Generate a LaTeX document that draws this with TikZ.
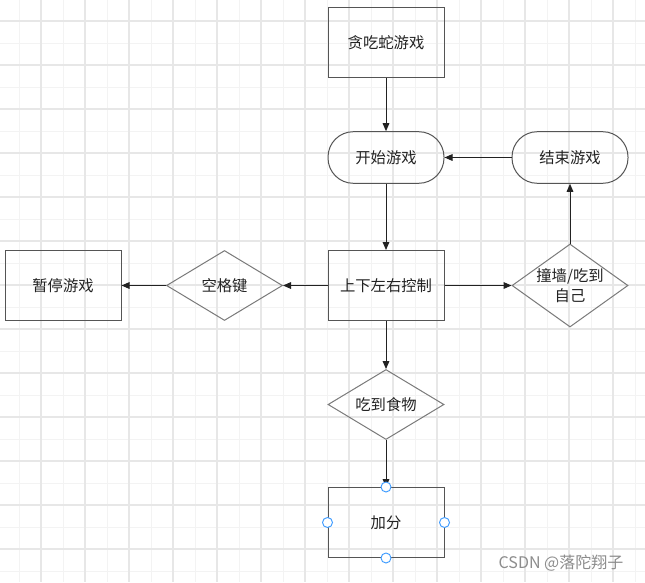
\documentclass[tikz,border=0pt]{standalone}
\usepackage{fontspec}
\setmainfont{Noto Sans CJK SC}
\usetikzlibrary{shapes.geometric,arrows.meta}
\definecolor{boxline}{HTML}{555555}
\definecolor{dialine}{HTML}{7A7A7A}
\definecolor{txtcol}{HTML}{222222}
\definecolor{gridlight}{HTML}{F3F3F3}
\definecolor{griddark}{HTML}{E7E7E7}
\definecolor{handleblue}{HTML}{3D9BFF}
\begin{document}
\begin{tikzpicture}[x=0.75pt, y=-0.75pt, >={Triangle[length=6pt,width=5pt]},
  box/.style={draw=boxline, rectangle, line width=0.75pt, minimum width=87pt, minimum height=52.5pt, text=txtcol, font=\fontsize{11.5}{15}\selectfont},
  stadium/.style={box, rounded corners=19pt, minimum height=38.7pt},
  decision/.style={draw=dialine, diamond, line width=0.75pt, inner sep=0pt, shape aspect=1.4, minimum width=87pt, minimum height=52.5pt, align=center, text=txtcol, font=\fontsize{11.5}{15}\selectfont},
  handle/.style={draw=handleblue, fill=white, circle, inner sep=0pt, minimum size=7.5pt, line width=0.7pt},
  link/.style={->, draw=txtcol, line width=0.75pt}]

% Fond quadrillé
\fill[white] (0,0) rectangle (645,582);
\useasboundingbox (0,0) rectangle (645,582);
\foreach \gx in {19,63,...,635} \draw[gridlight, line width=0.7pt] (\gx,0) -- (\gx,582);
\foreach \gy in {43,87,...,571} \draw[gridlight, line width=0.7pt] (0,\gy) -- (645,\gy);
\foreach \gx in {41,85,...,613} \draw[griddark, line width=1pt] (\gx,0) -- (\gx,582);
\foreach \gy in {21,65,...,549} \draw[griddark, line width=1pt] (0,\gy) -- (645,\gy);

% Début
\node[box] (snake) at (386, 42.5) {贪吃蛇游戏};
\node[stadium] (start) at (386, 157.5) {开始游戏};
\node[stadium] (endgame) at (570, 157.5) {结束游戏};

% Contrôle
\node[box] (control) at (386, 285.5) {上下左右控制};
\node[decision] (space) at (224.5, 285.5) {空格键};
\node[box] (pause) at (63, 285.5) {暂停游戏};
\node[decision, minimum height=62.25pt] (wall) at (570, 285.5) {撞墙/吃到\\自己};

% Nourriture
\node[decision] (food) at (386, 404.5) {吃到食物};
\node[box] (score) at (386, 522.5) {加分};

% Flèches
\draw[link] (snake) -- (start);
\draw[link] (start) -- (control);
\draw[link] (control) -- (space);
\draw[link] (space) -- (pause);
\draw[link] (control) -- (wall);
\draw[link] (wall) -- (endgame);
\draw[link] (endgame) -- (start);
\draw[link] (control) -- (food);
\draw[link] (food) -- (score);

% Poignées
\node[handle] (hnorth) at (score.north) {};
\node[handle] (hsouth) at (score.south) {};
\node[handle] (hwest) at (score.west) {};
\node[handle] (heast) at (score.east) {};

% Filigrane
\node[text=black!45, font=\fontsize{12}{14}\selectfont] (mark) at (561, 563) {CSDN @落陀翔子};

\end{tikzpicture}
\end{document}
